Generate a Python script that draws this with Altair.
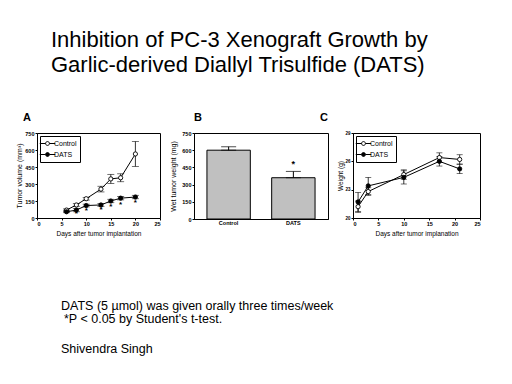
import altair as alt
import pandas as pd

FONT = "Liberation Sans"

# ---------------- data ----------------
days_a = [6, 8, 10, 13, 15, 17, 20]
ctrl_vol = [70, 115, 170, 255, 345, 355, 565]
ctrl_vol_err = [10, 12, 12, 25, 40, 35, 110]
dats_vol = [55, 70, 110, 115, 150, 175, 185]
dats_vol_err = [8, 15, 12, 12, 15, 15, 15]
star_days_a = [8, 10, 13, 15, 17, 20]
star_vol_a = [35, 65, 72, 95, 115, 135]

groups_b = ["Control", "DATS"]
weight_b = [600, 360]
weight_b_err = [30, 55]
star_b = 480

days_c = [1, 3, 10, 17, 21]
ctrl_bw = [21.2, 22.8, 24.6, 26.4, 26.2]
ctrl_bw_err = [0.6, 0.4, 0.5, 0.5, 0.5]
dats_bw = [21.7, 23.4, 24.3, 26.0, 25.2]
dats_bw_err = [1.0, 0.9, 0.7, 0.5, 0.5]

series = ["Control", "DATS"]

title_lines = ["Inhibition of PC-3 Xenograft Growth by",
               "Garlic-derived Diallyl Trisulfide (DATS)"]
foot_lines = ["DATS (5 \u00b5mol) was given orally three times/week",
              "*P < 0.05 by Student's t-test.",
              "Shivendra Singh"]


def long_df(days, c, ce, d, de):
    rows = []
    for s, m, e in (("Control", c, ce), ("DATS", d, de)):
        for x, v, er in zip(days, m, e):
            rows.append({"day": x, "series": s, "mean": v, "lo": v - er, "hi": v + er})
    return pd.DataFrame(rows)


df_a = long_df(days_a, ctrl_vol, ctrl_vol_err, dats_vol, dats_vol_err)
df_c = long_df(days_c, ctrl_bw, ctrl_bw_err, dats_bw, dats_bw_err)
df_stars_a = pd.DataFrame({"day": star_days_a, "v": star_vol_a, "t": ["*"] * len(star_days_a)})
df_b = pd.DataFrame({"group": groups_b, "mean": weight_b,
                     "hi": [m + e for m, e in zip(weight_b, weight_b_err)]})
df_star_b = pd.DataFrame({"group": ["DATS"], "v": [star_b], "t": ["*"]})

LEG_PATH = "M-2,0H-0.5M0.5,0H2M0.5,0A0.5,0.5,0,1,1,-0.5,0A0.5,0.5,0,1,1,0.5,0Z"


def legend():
    return alt.Legend(title=None, orient="top-left", offset=3, strokeColor="black",
                      fillColor="white", padding=3, symbolType=LEG_PATH, symbolSize=60,
                      symbolStrokeColor="black", symbolStrokeWidth=1, labelFontSize=7,
                      labelFont=FONT, rowPadding=2, labelOffset=2)


def line_panel(df, xdom, xvals, ydom, yvals, ytitle, xtitle, ytp, cap, w, h,
               stars=None, ylab=5.5, ytitlesize=7):
    xax = alt.Axis(values=xvals, title=xtitle, titlePadding=4, labelOverlap=False)
    yax = alt.Axis(values=yvals, title=ytitle, titlePadding=ytp, labelOverlap=False,
                   labelFontSize=ylab, titleFontSize=ytitlesize)
    xs = alt.Scale(domain=xdom, nice=False)
    ys = alt.Scale(domain=ydom, nice=False, zero=False)
    x = alt.X("day:Q", scale=xs, axis=xax)
    y = alt.Y("mean:Q", scale=ys, axis=yax)
    base = alt.Chart(df)
    lines = base.mark_line(color="black", strokeWidth=1).encode(x=x, y=y, detail="series:N")
    err = base.mark_errorbar(ticks={"size": cap, "color": "black"}, color="black",
                             thickness=0.8).encode(
        x=x, y=alt.Y("lo:Q", scale=ys, axis=yax), y2="hi:Q", detail="series:N")
    pts = base.mark_point(filled=True, size=18, stroke="black", strokeWidth=0.9,
                          opacity=1).encode(
        x=x, y=y,
        fill=alt.Fill("series:N", scale=alt.Scale(domain=series, range=["white", "black"]),
                      legend=legend()))
    layers = [lines, err, pts]
    if stars is not None:
        layers.append(alt.Chart(stars).mark_text(text="*", fontSize=8, fontWeight="bold",
                                                 baseline="middle", color="black").encode(
            x=alt.X("day:Q", scale=xs, axis=xax), y=alt.Y("v:Q", scale=ys, axis=yax)))
    return alt.layer(*layers).properties(width=w, height=h)


panel_a = line_panel(df_a, [0, 25], [0, 5, 10, 15, 20, 25], [0, 750],
                     [0, 150, 300, 450, 600, 750], "Tumor volume (mm\u00b3)",
                     "Days after tumor implantation", 2, 7, 123, 85, df_stars_a)

panel_c = line_panel(df_c, [0, 25], [0, 5, 10, 15, 20, 25], [20, 29],
                     [20, 23, 26, 29], "Weight (g)",
                     "Days after tumor implanation", 1, 6, 127, 85,
                     ylab=4.5, ytitlesize=6.5)

BTITLE = "Wet tumor weight (mg)"
xbs = alt.Scale(paddingInner=0.33, paddingOuter=0.2)
xbax = alt.Axis(title=None, labelAngle=0, labelFontSize=5.5, ticks=False)
xb = alt.X("group:N", sort=groups_b, scale=xbs, axis=xbax)
ybs = alt.Scale(domain=[0, 750], nice=False)
ybax = alt.Axis(values=[0, 150, 300, 450, 600, 750], title=BTITLE,
                titlePadding=5, labelOverlap=False)
yb = alt.Y("mean:Q", scale=ybs, axis=ybax)
bars = alt.Chart(df_b).mark_bar(color="#c0c0c0", stroke="black", strokeWidth=1).encode(x=xb, y=yb)
err_b = alt.Chart(df_b).mark_errorbar(ticks={"size": 15, "color": "black"}, color="black",
                                      thickness=1).encode(x=xb, y=yb, y2="hi:Q")
star_b_mark = alt.Chart(df_star_b).mark_text(text="*", fontSize=9, fontWeight="bold",
                                             baseline="middle", color="black").encode(
    x=xb, y=alt.Y("v:Q", scale=ybs, axis=ybax))
panel_b = alt.layer(bars, err_b, star_b_mark).properties(width=134, height=86)

row = alt.hconcat(panel_a, panel_b, panel_c, spacing=8).resolve_scale(
    fill="independent").resolve_legend(fill="independent")


def txt(s, x, y, size, weight="normal"):
    return alt.Chart(pd.DataFrame({"t": [s]})).mark_text(
        align="left", baseline="alphabetic", fontSize=size, font=FONT,
        fontWeight=weight, color="black").encode(
        x=alt.value(x), y=alt.value(y), text="t:N")


OX = 39  # page x of panel A plot origin
header = alt.layer(
    txt(title_lines[0], 53 - OX, 39, 22),
    txt(title_lines[1], 53 - OX, 64, 22),
    txt("A", 25 - OX, 113, 11, "bold"),
    txt("B", 196 - OX, 113, 11, "bold"),
    txt("C", 322 - OX, 113, 11, "bold"),
).properties(width=440, height=121, view=alt.ViewBackground(strokeOpacity=0))

footer = alt.layer(
    txt(foot_lines[0], 63 - OX, 72, 12.5),
    txt(foot_lines[1], 66 - OX, 85, 12.5),
    txt(foot_lines[2], 63 - OX, 115, 12.5),
).properties(width=300, height=125, view=alt.ViewBackground(strokeOpacity=0))

chart = alt.vconcat(header, row, footer, spacing=0).properties(
    padding={"left": 7, "top": 0, "right": 0, "bottom": 0},
    background="white",
).configure_axis(
    labelFont=FONT, titleFont=FONT, labelFontSize=5.5, labelFontWeight="bold",
    titleFontSize=6.5, titleFontWeight="normal", tickSize=2, tickColor="black",
    domainColor="black", labelColor="black", titleColor="black", grid=False,
    labelPadding=1, labelOverlap=False,
).configure_axisY(titleFontSize=7).configure_view(
    stroke="black", strokeWidth=1
)

chart.save("out.html", embed_options={"renderer": "svg", "actions": False})
